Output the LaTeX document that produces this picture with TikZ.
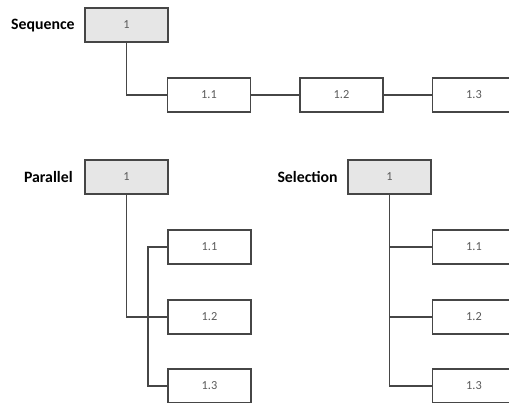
\documentclass[tikz,border=0pt]{standalone}
\usepackage{fontspec}
\setmainfont{Carlito}
\usetikzlibrary{positioning}

\definecolor{boxline}{RGB}{70,70,70}
\definecolor{boxgray}{RGB}{230,230,230}
\definecolor{numgray}{RGB}{90,90,90}

\tikzset{
  topbox/.style={draw=boxline, fill=boxgray, line width=0.7pt, minimum width=1.66cm,
    minimum height=0.68cm, inner sep=0pt, text=numgray, font=\fontsize{7}{8}\selectfont},
  subbox/.style={topbox, fill=white},
  tag/.style={anchor=east, inner sep=0pt, font=\bfseries\fontsize{9}{10}\selectfont},
  link/.style={draw=boxline, line width=0.7pt}
}

\begin{document}
\begin{tikzpicture}[x=0.02cm, y=-0.02cm]
    \useasboundingbox (0,0) rectangle (509,402);
    \clip (0,0) rectangle (509,402);

    % sequence
    \node[tag] (seqtag) at (75,26) {Sequence};
    \node[topbox] (s1) at (126.5,25) {1};
    \node[subbox] (s11) at (209,95) {1.1};
    \node[subbox] (s12) at (341.5,95) {1.2};
    \node[subbox] (s13) at (474,95) {1.3};
    \draw[link] (s1.south) |- (s11.west);
    \draw[link] (s11) -- (s12);
    \draw[link] (s12) -- (s13);

    % parallel
    \node[tag] (partag) at (73,177) {Parallel};
    \node[topbox] (p1) at (126.5,177) {1};
    \node[subbox] (p11) at (209.5,247) {1.1};
    \node[subbox] (p12) at (209.5,317) {1.2};
    \node[subbox] (p13) at (209.5,386) {1.3};
    \coordinate (pbus) at (148,0);
    \draw[link] (p1.south) |- (p12.west);
    \draw[link] (p11.west) -- (p11.west -| pbus) |- (p13.west);

    % selection
    \node[tag] (seltag) at (338,177) {Selection};
    \node[topbox] (q1) at (389.5,177) {1};
    \node[subbox] (q11) at (474,247) {1.1};
    \node[subbox] (q12) at (474,317) {1.2};
    \node[subbox] (q13) at (474,386) {1.3};
    \draw[link] (q1.south) |- (q13.west);
    \draw[link] (q11.west) -- (q11.west -| q1.south);
    \draw[link] (q12.west) -- (q12.west -| q1.south);
\end{tikzpicture}
\end{document}
